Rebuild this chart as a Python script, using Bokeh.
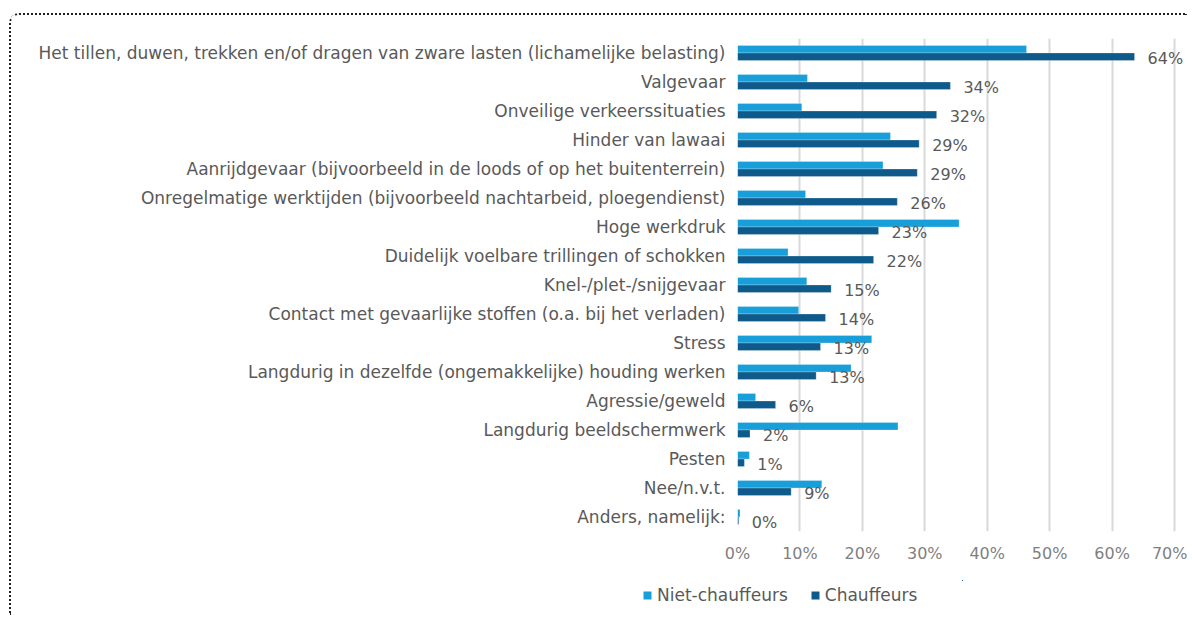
from bokeh.plotting import figure
from bokeh.layouts import column
from bokeh.models import (ColumnDataSource, FactorRange, FixedTicker, PrintfTickFormatter,
                          Legend, LegendItem, LabelSet, Range1d)
from bokeh.core.properties import value
from bokeh.transform import dodge
from bokeh.embed import file_html
from bokeh.resources import INLINE

categories = [
    "Het tillen, duwen, trekken en/of dragen van zware lasten (lichamelijke belasting)",
    "Valgevaar",
    "Onveilige verkeerssituaties",
    "Hinder van lawaai",
    "Aanrijdgevaar (bijvoorbeeld in de loods of op het buitenterrein)",
    "Onregelmatige werktijden (bijvoorbeeld nachtarbeid, ploegendienst)",
    "Hoge werkdruk",
    "Duidelijk voelbare trillingen of schokken",
    "Knel-/plet-/snijgevaar",
    "Contact met gevaarlijke stoffen (o.a. bij het verladen)",
    "Stress",
    "Langdurig in dezelfde (ongemakkelijke) houding werken",
    "Agressie/geweld",
    "Langdurig beeldschermwerk",
    "Pesten",
    "Nee/n.v.t.",
    "Anders, namelijk:",
]
niet_chauffeurs = [46.3, 11.2, 10.3, 24.5, 23.3, 10.9, 35.5, 8.1, 11.1, 9.8, 21.5, 18.2, 2.9, 25.7, 1.9, 13.5, 0.4]
chauffeurs = [63.6, 34.1, 31.9, 29.1, 28.8, 25.6, 22.6, 21.8, 15.0, 14.1, 13.3, 12.6, 6.1, 2.0, 1.1, 8.6, 0.2]
x_ticks = [0, 10, 20, 30, 40, 50, 60, 70]
series_names = ["Niet-chauffeurs", "Chauffeurs"]

LIGHT = "#189fda"
DARK = "#0e5a8b"
FONT = "DejaVu Sans"
W = 1176

source = ColumnDataSource(dict(
    cat=categories,
    niet=niet_chauffeurs,
    chauf=chauffeurs,
    lab=[f"{v:.0f}%" for v in chauffeurs],
))

p = figure(
    y_range=FactorRange(factors=categories[::-1], range_padding=0),
    x_range=Range1d(0, 71.6),
    frame_width=447, frame_height=493,
    min_border_left=726, min_border_right=3, min_border_top=23, min_border_bottom=40,
    output_backend="svg", toolbar_location=None,
    background_fill_color="white", border_fill_color="white",
)
p.outline_line_color = None

r1 = p.hbar(y=dodge("cat", 0.13, range=p.y_range), right="niet", left=0, height=0.26,
            source=source, fill_color=LIGHT, line_color="#ffffff", line_alpha=0.35, line_width=0.7)
r2 = p.hbar(y=dodge("cat", -0.13, range=p.y_range), right="chauf", left=0, height=0.26,
            source=source, fill_color=DARK, line_color="#ffffff", line_alpha=0.35, line_width=0.7)

labels = LabelSet(x="chauf", y=dodge("cat", -0.13, range=p.y_range), text="lab", source=source,
                  x_offset=13, y_offset=-2, text_baseline="middle", text_align="left",
                  text_font=value(FONT), text_font_size=value("16px"), text_color="#595959")
p.add_layout(labels)

# grid
p.ygrid.grid_line_color = None
p.xgrid.ticker = FixedTicker(ticks=x_ticks)
p.xgrid.grid_line_color = "#d9d9d9"
p.xgrid.grid_line_width = 2

# x axis
p.xaxis.ticker = FixedTicker(ticks=x_ticks)
p.xaxis.formatter = PrintfTickFormatter(format="%d%%")
p.xaxis.axis_line_color = None
p.xaxis.major_tick_line_color = None
p.xaxis.minor_tick_line_color = None
p.xaxis.major_tick_out = 0
p.xaxis.major_label_standoff = 12
p.xaxis.major_label_text_font = FONT
p.xaxis.major_label_text_font_size = "16px"
p.xaxis.major_label_text_color = "#7f7f7f"

# y axis
p.yaxis.axis_line_color = None
p.yaxis.major_tick_line_color = None
p.yaxis.minor_tick_line_color = None
p.yaxis.major_tick_out = 0
p.yaxis.major_label_standoff = 12
p.yaxis.major_label_text_font = FONT
p.yaxis.major_label_text_font_size = "17px"
p.yaxis.major_label_text_color = "#595959"

# legend strip (separate small figure below the chart); its own ranges keep the
# proxy bars out of view so only the legend swatches and labels show
lg = figure(
    x_range=Range1d(-3, -2), y_range=Range1d(-3, -2),
    frame_width=320, frame_height=30,
    min_border_left=631, min_border_right=W - 631 - 320, min_border_top=9, min_border_bottom=5,
    x_axis_type=None, y_axis_type=None,
    output_backend="svg", toolbar_location=None,
    background_fill_color="white", border_fill_color="white",
)
try:
    lg.frame_align = False
except Exception:
    pass
lg.outline_line_color = None
lg.grid.visible = False
l1 = lg.hbar(y="niet", right="niet", left=0, height=0.26, source=source, fill_color=LIGHT, line_color=None)
l2 = lg.hbar(y="chauf", right="chauf", left=0, height=0.26, source=source, fill_color=DARK, line_color=None)

legend = Legend(items=[LegendItem(label=series_names[0], renderers=[l1]),
                       LegendItem(label=series_names[1], renderers=[l2])],
                orientation="horizontal", location=(0, 5),
                glyph_width=10, glyph_height=10, label_standoff=5, spacing=22,
                padding=0, margin=0, border_line_color=None, background_fill_alpha=0,
                label_text_font=FONT, label_text_font_size="17px", label_text_color="#595959")
lg.add_layout(legend, "center")

layout = column(p, lg, spacing=0)
layout.styles = {
    "border-top-style": "dotted",
    "border-top-width": "2px",
    "border-top-color": "#222222",
    "border-left-style": "dotted",
    "border-left-width": "2px",
    "border-left-color": "#222222",
    "border-right-style": "none",
    "border-bottom-style": "none",
    "border-top-left-radius": "10px",
    "margin-top": "13px",
    "margin-left": "9px",
}

open("out.html", "w").write(file_html(layout, INLINE))
